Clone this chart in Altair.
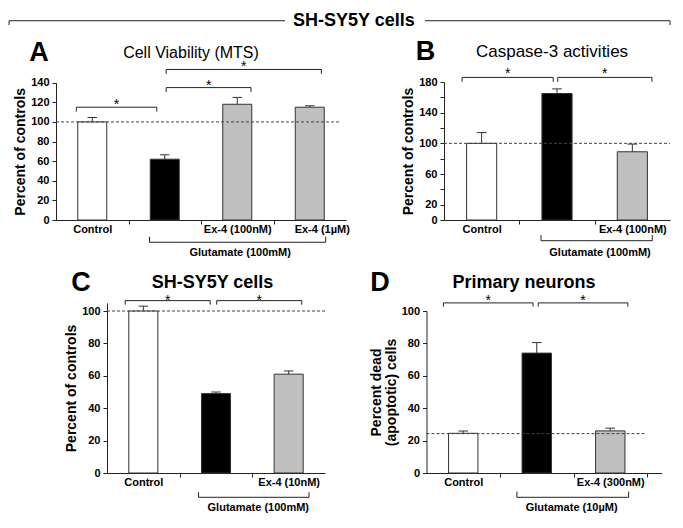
import json
import altair as alt
import pandas as pd

FONT = "Liberation Sans"
W, H = 667, 512

# ---------------- data ----------------
header_text = "SH-SY5Y cells"

a_cats = ["Control", "", "Ex-4 (100nM)", "Ex-4 (1µM)"]
a_vals = [100, 62, 118, 115]
a_errs = [4.5, 4.5, 7, 1.5]
a_ref = 100
a_sig_x1 = [-0.22, 1.02, 1.02]
a_sig_x2 = [0.89, 2.19, 3.16]
a_sig_y = [115, 135, 153.5]

b_cats = ["Control", "", "Ex-4 (100nM)"]
b_vals = [100, 165, 89]
b_errs = [14, 6, 10]
b_ref = 100
b_sig_x1 = [-0.26, 1.01]
b_sig_x2 = [0.95, 2.26]
b_sig_y = [186, 186]

c_cats = ["Control", "", "Ex-4 (10nM)"]
c_vals = [100, 49, 61]
c_errs = [3, 1, 2]
c_ref = 100
c_sig_x1 = [-0.25, 1.01]
c_sig_x2 = [0.92, 2.18]
c_sig_y = [106.4, 106.4]

d_cats = ["Control", "", "Ex-4 (300nM)"]
d_vals = [24.5, 74, 26]
d_errs = [1.4, 6.5, 1.7]
d_ref = 24.3
d_sig_x1 = [-0.27, 1.02]
d_sig_x2 = [0.95, 2.24]
d_sig_y = [105, 105]

bar_fills = ["white", "black", "#c0c0c0", "#c0c0c0"]

panels = [
    dict(letter="A", title="Cell Viability (MTS)", title_bold=False, title_size=16,
         cats=a_cats, vals=a_vals, errs=a_errs, ref=a_ref, ref_x=(-0.5, 3.42),
         sig=(a_sig_x1, a_sig_x2, a_sig_y), sig_drop=4.5, star_dy=2,
         group="Glutamate (100mM)", group_x=(0.79, 3.22), group_y=-22.7, group_rise=5.7,
         group_label=(2.04, -34),
         ytitle="Percent of controls", yticks=list(range(0, 141, 20)), ylabel_expr=None,
         xdom=[-0.5, 3.5], xrange=[48, 338], ydom=[0, 140], yrange=[212, 74.7],
         letter_pos=(-0.734, 170.3), title_pos=(1.362, 170.3), xoff=-300, yoff=-48,
         xticks=[0, 0.5, 1, 1.5, 2, 2.5, 3], last_shift=12),
    dict(letter="B", title="Caspase-3 activities", title_bold=False, title_size=17,
         cats=b_cats, vals=b_vals, errs=b_errs, ref=b_ref, ref_x=(-0.5, 2.5),
         sig=(b_sig_x1, b_sig_x2, b_sig_y), sig_drop=5.7, star_dy=1,
         group="Glutamate (100mM)", group_x=(0.788, 2.265), group_y=-27, group_rise=7.4,
         group_label=(1.571, -42.6),
         ytitle="Percent of controls", yticks=list(range(0, 181, 20)),
         ylabel_expr="datum.value == 0 || datum.value % 40 == 20 ? datum.label : ''",
         xdom=[-0.5, 2.5], xrange=[436, 662], ydom=[0, 180], yrange=[212, 74],
         letter_pos=(-0.746, 219.1), title_pos=(0.934, 219.1), xoff=-300, yoff=-436,
         xticks=[0, 0.5, 1, 1.5, 2], last_shift=0),
    dict(letter="C", title="SH-SY5Y cells", title_bold=True, title_size=18,
         cats=c_cats, vals=c_vals, errs=c_errs, ref=c_ref, ref_x=(-0.5, 2.5),
         sig=(c_sig_x1, c_sig_x2, c_sig_y), sig_drop=2.5, star_dy=4,
         group="Glutamate (100mM)", group_x=(0.76, 2.28), group_y=-15, group_rise=3.1,
         group_label=(1.582, -21.8),
         ytitle="Percent of controls", yticks=list(range(0, 101, 20)), ylabel_expr=None,
         xdom=[-0.5, 2.5], xrange=[99, 317], ydom=[0, 105], yrange=[465, 294.9],
         letter_pos=(-0.858, 117.3), title_pos=(0.952, 117.1), xoff=-47, yoff=-99,
         xticks=[0, 0.5, 1, 1.5, 2], last_shift=0),
    dict(letter="D", title="Primary neurons", title_bold=True, title_size=18,
         cats=d_cats, vals=d_vals, errs=d_errs, ref=d_ref, ref_x=(-0.5, 2.48),
         sig=(d_sig_x1, d_sig_x2, d_sig_y), sig_drop=2.3, star_dy=2,
         group="Glutamate (10µM)", group_x=(0.73, 2.25), group_y=-15, group_rise=3.5,
         group_label=(1.475, -21.8),
         ytitle=["Percent dead", "(apoptotic) cells"], yticks=list(range(0, 101, 20)),
         ylabel_expr=None,
         xdom=[-0.5, 2.7], xrange=[418.5, 653.7], ydom=[0, 100], yrange=[465, 303],
         letter_pos=(-1.133, 117.3), title_pos=(0.827, 117.3), xoff=-47, yoff=-418.5,
         xticks=[0, 0.5, 1, 1.5, 2, 2.5], last_shift=0),
]

# header (drawn in panel A / B coordinates)
header_pos = (3.61, 202.9)
header_left = dict(x1=-1.148, x2=2.659, y=203.2, drop=4.4)
header_right = dict(x1=-0.752, x2=2.5, y=259.9, drop=5.6)

INK = "#222"


def make_scales_axes(p):
    n = len(p["cats"])
    xs = alt.Scale(domain=p["xdom"], range=p["xrange"], nice=False, zero=False)
    ys = alt.Scale(domain=p["ydom"], range=p["yrange"], nice=False, zero=False)
    cats_js = json.dumps(p["cats"], ensure_ascii=False)
    last = n - 1
    xaxis = alt.Axis(
        orient="bottom", offset=p["xoff"], values=p["xticks"], title=None, grid=False,
        labelExpr=f"{cats_js}[datum.value] || ''",
        tickOpacity={"condition": {"test": "datum.value % 1 != 0", "value": 1}, "value": 0},
        labelOffset={"condition": {"test": f"datum.value == {last}", "value": p["last_shift"]}, "value": 0},
        tickSize=4, tickColor=INK, domainColor=INK, labelFont=FONT, labelFontSize=11,
        labelFontWeight="bold", labelColor="black", labelPadding=-1, labelOverlap=False,
        labelFlush=False, labelBound=False)
    yaxis_kw = dict(
        orient="left", offset=p["yoff"], values=p["yticks"], title=p["ytitle"], grid=False,
        tickSize=4, tickColor=INK, domainColor=INK, labelFont=FONT, labelFontSize=11,
        labelFontWeight="bold", labelColor="black", labelPadding=3, titleFont=FONT,
        titleFontSize=14, titleFontWeight="bold", titleColor="black", titlePadding=3,
        titleLineHeight=15, labelOverlap=False, labelFlush=False, labelBound=False)
    if p["ylabel_expr"]:
        yaxis_kw["labelExpr"] = p["ylabel_expr"]
    yaxis = alt.Axis(**yaxis_kw)
    return xs, ys, xaxis, yaxis


def txt(df, S, **kw):
    xs, ys, xa, ya = S
    base = dict(font=FONT, color="black", align="center", baseline="middle")
    base.update(kw)
    return alt.Chart(df).mark_text(**base).encode(
        x=alt.X("x:Q", scale=xs, axis=xa), y=alt.Y("y:Q", scale=ys, axis=ya), text="t:N")


def rules(df, S, **kw):
    xs, ys, xa, ya = S
    base = dict(color=INK, strokeWidth=1)
    base.update(kw)
    return alt.Chart(df).mark_rule(**base).encode(
        x=alt.X("x:Q", scale=xs, axis=xa), x2="x2:Q",
        y=alt.Y("y:Q", scale=ys, axis=ya), y2="y2:Q")


def bracket_rows(x1, x2, y, d):
    return [dict(x=x1, x2=x2, y=y, y2=y), dict(x=x1, x2=x1, y=y, y2=y - d),
            dict(x=x2, x2=x2, y=y, y2=y - d)]


def build(p, extra_fn=None):
    S = make_scales_axes(p)
    xs, ys, xa, ya = S
    n = len(p["cats"])
    df = pd.DataFrame({"c": list(range(n)), "v": p["vals"], "fill": bar_fills[:n]})
    df["top"] = [v + e for v, e in zip(p["vals"], p["errs"])]
    df["x1"] = df["c"] - 0.2
    df["x2"] = df["c"] + 0.2
    df["k1"] = df["c"] - 0.065
    df["k2"] = df["c"] + 0.065
    df["z"] = 0

    base = alt.Chart(df)
    bars = base.mark_bar(stroke="#333", strokeWidth=1).encode(
        x=alt.X("x1:Q", scale=xs, axis=xa), x2="x2:Q",
        y=alt.Y("v:Q", scale=ys, axis=ya), y2="z:Q",
        fill=alt.Fill("fill:N", scale=None))
    stem = base.mark_rule(color="#333", strokeWidth=1).encode(
        x=alt.X("c:Q", scale=xs, axis=xa), y=alt.Y("v:Q", scale=ys, axis=ya), y2="top:Q")
    cap = base.mark_rule(color="#333", strokeWidth=1).encode(
        x=alt.X("k1:Q", scale=xs, axis=xa), x2="k2:Q", y=alt.Y("top:Q", scale=ys, axis=ya))

    ref = rules(pd.DataFrame([dict(x=p["ref_x"][0], x2=p["ref_x"][1], y=p["ref"], y2=p["ref"])]),
                S, color="#444", strokeDash=[3, 2])

    sx1, sx2, sy = p["sig"]
    rows = []
    for a, b, y in zip(sx1, sx2, sy):
        rows += bracket_rows(a, b, y, p["sig_drop"])
    g1, g2 = p["group_x"]
    rows += bracket_rows(g1, g2, p["group_y"], -p["group_rise"])
    brk = rules(pd.DataFrame(rows), S)

    stars = txt(pd.DataFrame({"x": [(a + b) / 2 for a, b in zip(sx1, sx2)], "y": sy,
                              "t": ["*"] * len(sy)}),
                S, fontSize=14, baseline="alphabetic", dy=p["star_dy"])
    glab = txt(pd.DataFrame([dict(x=p["group_label"][0], y=p["group_label"][1], t=p["group"])]),
               S, fontSize=11, fontWeight="bold")
    letter = txt(pd.DataFrame([dict(x=p["letter_pos"][0], y=p["letter_pos"][1], t=p["letter"])]),
                 S, fontSize=27, fontWeight="bold")
    title = txt(pd.DataFrame([dict(x=p["title_pos"][0], y=p["title_pos"][1], t=p["title"])]),
                S, fontSize=p["title_size"], fontWeight="bold" if p["title_bold"] else "normal")

    layers = [bars, stem, cap, ref, brk, stars, glab, letter, title]
    if extra_fn:
        layers += extra_fn(S)
    return alt.layer(*layers)


def header_a(S):
    hl = header_left
    t = txt(pd.DataFrame([dict(x=header_pos[0], y=header_pos[1], t=header_text)]),
            S, fontSize=18, fontWeight="bold")
    r = rules(pd.DataFrame([dict(x=hl["x1"], x2=hl["x2"], y=hl["y"], y2=hl["y"]),
                            dict(x=hl["x1"], x2=hl["x1"], y=hl["y"], y2=hl["y"] - hl["drop"])]), S)
    return [t, r]


def header_b(S):
    hr = header_right
    r = rules(pd.DataFrame([dict(x=hr["x1"], x2=hr["x2"], y=hr["y"], y2=hr["y"]),
                            dict(x=hr["x2"], x2=hr["x2"], y=hr["y"], y2=hr["y"] - hr["drop"])]), S)
    return [r]


pA = build(panels[0], header_a)
pB = build(panels[1], header_b)
pC = build(panels[2])
pD = build(panels[3])

chart = alt.layer(pA, pB, pC, pD).resolve_scale(
    x="independent", y="independent"
).resolve_axis(
    x="independent", y="independent"
).properties(
    width=W, height=H, autosize="none", padding=0, background="white"
).configure_view(stroke=None)

chart.save("out.html", embed_options={"renderer": "svg", "actions": False})
